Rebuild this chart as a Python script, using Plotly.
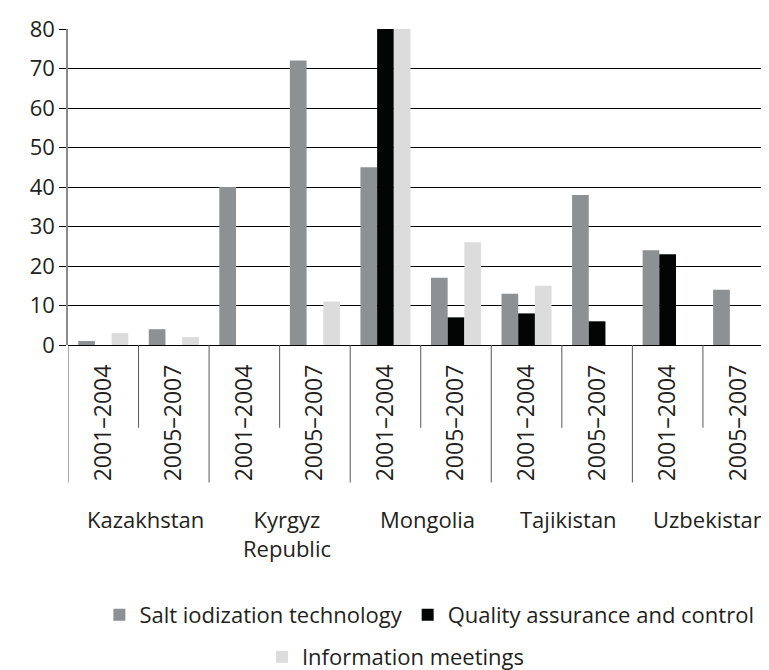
import plotly.graph_objects as go

countries = ["Kazakhstan", "Kyrgyz<br>Republic", "Mongolia", "Tajikistan", "Uzbekistan"]
periods = ["2001–2004", "2005–2007"]
tick_labels = [p for c in countries for p in periods]

salt = [1, 4, 40, 72, 45, 17, 13, 38, 24, 14]
quality = [0, 0, 0, 0, 80, 7, 8, 6, 23, 0]
info = [3, 2, 0, 11, 80, 26, 15, 0, 0, 0]

y_ticks = [0, 10, 20, 30, 40, 50, 60, 70, 80]

FONT = "Open Sans"
TXT = "#231f20"
xs = list(range(len(tick_labels)))

fig = go.Figure()
fig.add_trace(go.Bar(x=xs, y=salt, name="Salt iodization technology",
                     marker=dict(color="#8d9194", line=dict(width=0)), legend="legend"))
fig.add_trace(go.Bar(x=xs, y=quality, name="Quality assurance and control",
                     marker=dict(color="#030505", line=dict(width=0)), legend="legend"))
fig.add_trace(go.Bar(x=xs, y=info, name="Information meetings",
                     marker=dict(color="#dcdcdc", line=dict(width=0)), legend="legend2"))

# dividers below the axis
shapes = []
n = len(tick_labels)
for i in range(n + 1):
    xb = i - 0.5
    long_line = (i % 2 == 0)
    shapes.append(dict(type="line", xref="x", yref="paper", x0=xb, x1=xb,
                       y0=0, y1=-0.435 if long_line else -0.262,
                       line=dict(color="#555555", width=1)))

annotations = []
for k, c in enumerate(countries):
    annotations.append(dict(x=2 * k + 0.5, y=-0.497, xref="x", yref="paper",
                            text=c, showarrow=False, xanchor="center", yanchor="top",
                            xshift=7, font=dict(family=FONT, size=22, color=TXT)))

fig.update_layout(
    width=769, height=670,
    margin=dict(l=60, r=0, t=21, b=333),
    paper_bgcolor="white", plot_bgcolor="white",
    barmode="group", bargap=0.29, bargroupgap=0,
    font=dict(family=FONT, size=22, color=TXT),
    shapes=shapes, annotations=annotations,
    legend=dict(orientation="h", xref="container", yref="container",
                x=0.548, y=0.0627, xanchor="center", yanchor="bottom",
                font=dict(family=FONT, size=22, color=TXT), bgcolor="rgba(0,0,0,0)"),
    legend2=dict(orientation="h", xref="container", yref="container",
                 x=0.5045, y=0.0, xanchor="center", yanchor="bottom",
                 font=dict(family=FONT, size=22, color=TXT), bgcolor="rgba(0,0,0,0)"),
    xaxis=dict(range=[-0.5, 9.55], tickmode="array", tickvals=xs, ticktext=tick_labels,
               tickangle=-90, ticks="", showgrid=False, zeroline=False, showline=False,
               tickfont=dict(family=FONT, size=23, color=TXT), ticklabelstandoff=14,
               fixedrange=True),
    yaxis=dict(range=[0, 80], tickmode="array", tickvals=y_ticks,
               showgrid=True, gridcolor="#000000", gridwidth=1.3,
               zeroline=True, zerolinecolor="#000000", zerolinewidth=1.3,
               showline=True, linecolor="#8a8a8a", linewidth=1.5,
               ticks="outside", ticklen=7, tickcolor="#000000", tickwidth=1.3,
               tickfont=dict(family=FONT, size=22, color=TXT), fixedrange=True),
)

fig.write_html("out.html")
